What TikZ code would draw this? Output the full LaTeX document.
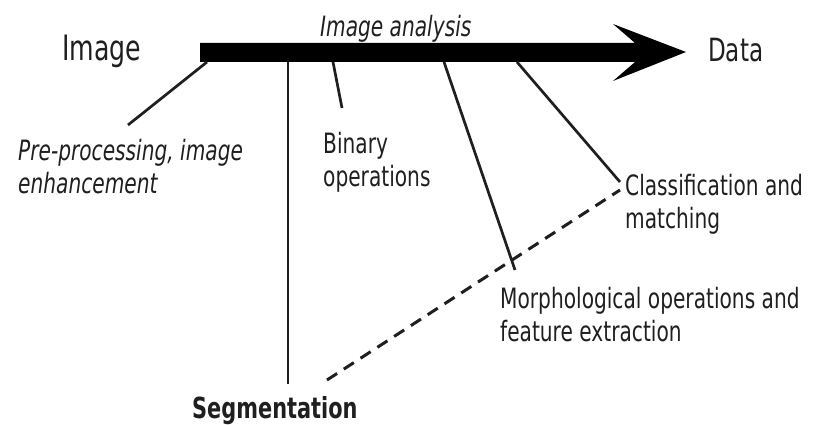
\documentclass[tikz,border=0pt]{standalone}
\usepackage{fontspec}
\setmainfont{DejaVu Sans}[FakeStretch=0.72]
\definecolor{ink}{rgb}{0.12,0.12,0.12}
\begin{document}
\begin{tikzpicture}[x=1pt,y=-1pt,
  lbl/.style={anchor=base west,inner sep=0pt,align=left,text=ink,font=\fontsize{28}{33}\selectfont},
  big/.style={anchor=base west,inner sep=0pt,text=ink,font=\fontsize{35}{40}\selectfont},
  lead/.style={line width=2.7pt,draw=ink},
  dashlead/.style={line width=3pt,draw=ink,dash pattern=on 12pt off 8pt}]
\useasboundingbox (0,0) rectangle (813,425);
% main arrow
\fill[black] (200,43) -- (635,43) -- (613,24) -- (686,52) -- (613,81) -- (635,62) -- (200,62) -- cycle;
% labels (multi-line nodes anchored at the baseline of their last line)
\node[big] (img) at (62,61) {Image};
\node[big,font=\fontsize{32}{36}\selectfont] (data) at (708,62) {Data};
\node[lbl,font=\fontsize{28}{33}\itshape] (ana) at (320,37) {Image analysis};
\node[lbl,font=\fontsize{28}{33}\itshape] (pre) at (18,193) {Pre-processing, image\\enhancement};
\node[lbl] (bin) at (323,186) {Binary\\operations};
\node[lbl] (cls) at (625,228) {Classification and\\matching};
\node[lbl] (mor) at (500,341) {Morphological operations and\\feature extraction};
\node[lbl,font=\fontsize{29}{33}\bfseries] (seg) at (192,418) {Segmentation};
% points on shaft and lead ends
\coordinate (sPre) at (207,62);
\coordinate (ePre) at (128,125);
\coordinate (sSeg) at (288,62);
\coordinate (eSeg) at (288,384);
\coordinate (sBin) at (333,62);
\coordinate (eBin) at (342,108);
\coordinate (sMor) at (444,62);
\coordinate (eMor) at (515,270);
\coordinate (sCls) at (517,62);
\coordinate (eCls) at (620,182);
\coordinate (dA) at (327,380);
\coordinate (dB) at (620,190);
\draw[lead] (sPre) -- (ePre);
\draw[lead] (sSeg) -- (eSeg);
\draw[lead] (sBin) -- (eBin);
\draw[lead] (sMor) -- (eMor);
\draw[lead] (sCls) -- (eCls);
\draw[dashlead] (dA) -- (dB);
\end{tikzpicture}
\end{document}
